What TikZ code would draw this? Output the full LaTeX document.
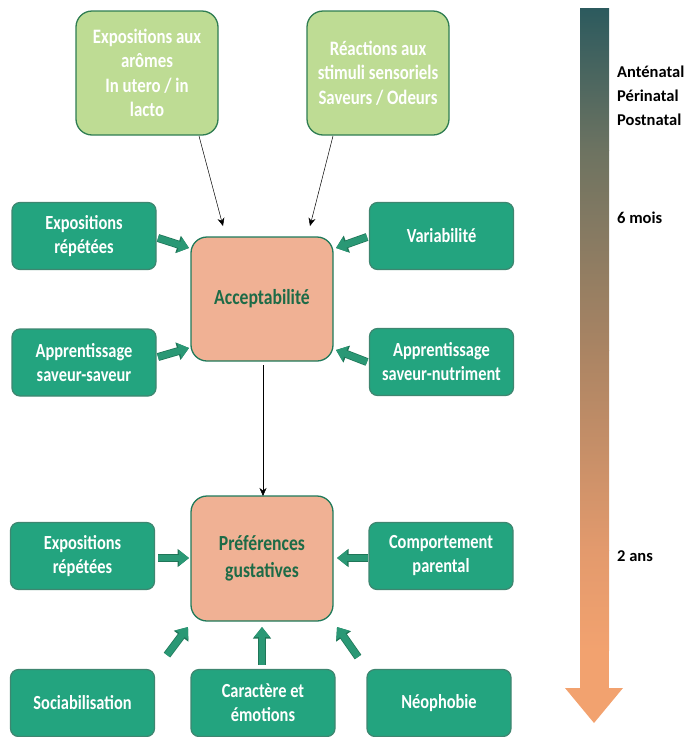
\documentclass[tikz,border=0pt]{standalone}
\usepackage{fontspec}
\setmainfont{Carlito}
\newfontfamily\boxfont[FakeStretch=0.82]{Carlito}
\usetikzlibrary{arrows.meta}
\definecolor{boxgreen}{HTML}{23A47F}
\definecolor{boxedge}{HTML}{3E8670}
\definecolor{lightgreen}{HTML}{BEDC94}
\definecolor{lgedge}{HTML}{2F7D52}
\definecolor{salmon}{HTML}{F0B194}
\definecolor{cedge}{HTML}{1F7A5A}
\definecolor{ctext}{HTML}{1D6B47}
\definecolor{arrfill}{HTML}{2A9875}
\definecolor{arredge}{HTML}{1F7658}
\definecolor{g0}{HTML}{2C5A5E}
\definecolor{g1}{HTML}{6D7361}
\definecolor{g2}{HTML}{AA8463}
\definecolor{g3}{HTML}{E39A6D}
\definecolor{g4}{HTML}{F2A26F}
\tikzset{
  darkbox/.style={rounded corners=8pt, fill=boxgreen, draw=boxedge, line width=1.2pt,
    text=white, font=\boxfont\bfseries\fontsize{20}{24}\selectfont, align=center,
    minimum width=144pt, minimum height=67pt, inner sep=0pt},
  lightbox/.style={rounded corners=16pt, fill=lightgreen, draw=lgedge, line width=1.3pt,
    text=white, font=\boxfont\bfseries\fontsize{20.5}{24.5}\selectfont, align=center,
    minimum width=142pt, minimum height=124pt, inner sep=0pt},
  centerbox/.style={rounded corners=16pt, fill=salmon, draw=cedge, line width=1.3pt,
    text=ctext, font=\boxfont\bfseries\fontsize{21.5}{27}\selectfont, align=center,
    minimum width=142pt, minimum height=124pt, inner sep=0pt},
  thinarrow/.style={draw=black, line width=0.5pt, -{Stealth[length=8pt,width=7pt]}},
  blockarrow/.style={draw=arrfill, line width=6.5pt, -{Triangle[length=10pt,width=15pt]},
    preaction={draw=arredge, line width=8pt, -{Triangle[length=11.5pt,width=17.5pt]}}},
  timelabel/.style={anchor=west, text=black, font=\bfseries\fontsize{16.5}{24}\selectfont, inner sep=0pt}
}
\begin{document}
\begin{tikzpicture}[x=1pt,y=-1pt]
\useasboundingbox (0,0) rectangle (686,737);

% timeline arrow
\shade[top color=g0, bottom color=g1] (580,8) rectangle (609,150.5);
\shade[top color=g1, bottom color=g2] (580,150) rectangle (609,350.5);
\shade[top color=g2, bottom color=g3] (580,350) rectangle (609,550.5);
\shade[top color=g3, bottom color=g4] (580,550) rectangle (609,650.5);
\fill[g4] (580,650) rectangle (609,689);
\fill[g4] (565,688) -- (623,688) -- (594,723) -- cycle;
\node[timelabel] (t1) at (617,72) {Anténatal};
\node[timelabel] (t2) at (617,96) {Périnatal};
\node[timelabel] (t3) at (617,120) {Postnatal};
\node[timelabel] (t4) at (617,218) {6 mois};
\node[timelabel] (t5) at (617,556) {2 ans};

% top boxes
\node[lightbox] (tl) at (147,73) {Expositions aux\\arômes\\In utero / in\\lacto};
\node[lightbox] (tr) at (378,73) {Réactions aux\\stimuli sensoriels\\Saveurs / Odeurs};

% central boxes
\node[centerbox] (acc) at (262,299) {Acceptabilité};
\node[centerbox, minimum height=125pt] (pref) at (262,558.5) {Préférences\\gustatives};

% side boxes
\node[darkbox] (er1) at (84,236) {Expositions\\répétées};
\node[darkbox] (var) at (441.5,236) {Variabilité};
\node[darkbox] (ass) at (84,362.5) {Apprentissage\\saveur-saveur};
\node[darkbox] (asn) at (441.5,362) {Apprentissage\\saveur-nutriment};
\node[darkbox] (er2) at (82.5,556) {Expositions\\répétées};
\node[darkbox] (cp) at (441,556) {Comportement\\parental};
\node[darkbox] (soc) at (82.5,703) {Sociabilisation};
\node[darkbox] (car) at (263,703) {Caractère et\\émotions};
\node[darkbox] (neo) at (439,703) {Néophobie};

% thin arrows
\coordinate (a1s) at (199,136);
\coordinate (a1e) at (223,226);
\coordinate (a2s) at (333,136);
\coordinate (a2e) at (310,226);
\coordinate (a3s) at (263,365);
\coordinate (a3e) at (263,496);
\draw[thinarrow] (a1s) -- (a1e);
\draw[thinarrow] (a2s) -- (a2e);
\draw[thinarrow] (a3s) -- (a3e);

% block arrows
\coordinate (b1s) at (158,238); \coordinate (b1e) at (189,248);
\coordinate (b2s) at (158,357); \coordinate (b2e) at (189,348);
\coordinate (b3s) at (367,237); \coordinate (b3e) at (336,248);
\coordinate (b4s) at (367,362); \coordinate (b4e) at (336,350);
\coordinate (b5s) at (158,558); \coordinate (b5e) at (189,558);
\coordinate (b6s) at (368,558); \coordinate (b6e) at (337,558);
\coordinate (b7s) at (167,655); \coordinate (b7e) at (188,627);
\coordinate (b8s) at (262,665); \coordinate (b8e) at (262,627);
\coordinate (b9s) at (358,657); \coordinate (b9e) at (337,627);
\foreach \i in {1,...,9} {\draw[blockarrow] (b\i s) -- (b\i e);}
\end{tikzpicture}
\end{document}
